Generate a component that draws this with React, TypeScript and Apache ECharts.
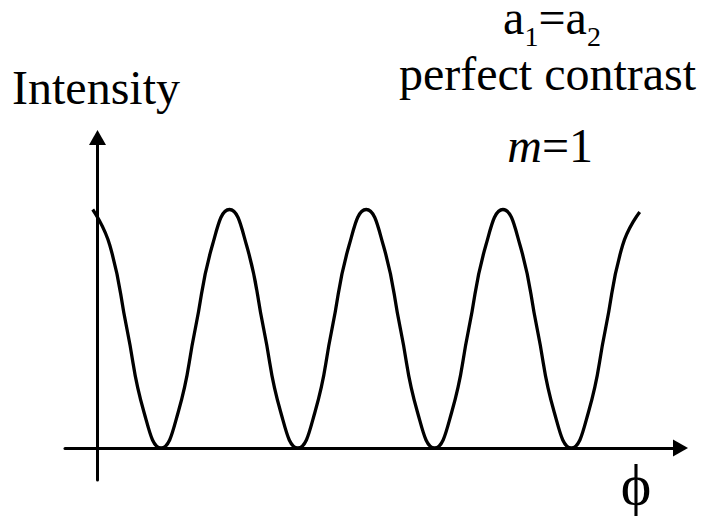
import React, { useEffect, useRef } from "react";
import * as echarts from "echarts";

// phase φ in units of π
const phi = [
  -0.07, 0.18, 0.43, 0.68, 0.93, 1.18, 1.43, 1.68, 1.93, 2.18, 2.43, 2.68,
  2.93, 3.18, 3.43, 3.68, 3.93, 4.18, 4.43, 4.68, 4.93, 5.18, 5.43, 5.68,
  5.93, 6.18, 6.43, 6.68, 6.93, 7.18, 7.43, 7.68, 7.93,
];
// normalized intensity
const intensity = [
  1, 0.85, 0.5, 0.15, 0, 0.15, 0.5, 0.85, 1, 0.85, 0.5, 0.15, 0, 0.15, 0.5,
  0.85, 1, 0.85, 0.5, 0.15, 0, 0.15, 0.5, 0.85, 1, 0.85, 0.5, 0.15, 0, 0.15,
  0.5, 0.85, 0.99,
];

const yAxisTitle = "Intensity";
const xAxisTitle = "\u03D5";
const noteLine2 = "perfect contrast";

export default function App() {
  const ref = useRef<HTMLDivElement>(null);
  useEffect(() => {
    if (!ref.current) return;
    const chart = echarts.init(ref.current, undefined, { renderer: "svg" });
    const points = phi.map((p, i) => [p, intensity[i]]);
    const axisLine = () => ({
      show: true,
      onZero: true,
      symbol: ["none", "triangle"],
      symbolSize: [17, 15],
      lineStyle: { color: "#000", width: 3 },
    });
    const txt = (text: string, x: number, y: number, size: number, align: string, italic = false) => ({
      type: "text",
      x,
      y,
      silent: true,
      style: {
        text,
        fill: "#000",
        fontSize: size,
        fontFamily: "Liberation Serif",
        fontStyle: italic ? "italic" : "normal",
        align,
        verticalAlign: "middle",
      },
    });
    chart.setOption({
      animation: false,
      grid: { left: 65, right: 27.5, top: 137.5, bottom: 39, containLabel: false },
      xAxis: {
        type: "value",
        min: -0.4753,
        max: 8.5265,
        axisLine: axisLine(),
        axisTick: { show: false },
        axisLabel: { show: false },
        splitLine: { show: false },
      },
      yAxis: {
        type: "value",
        min: -0.1342,
        max: 1.3019,
        axisLine: axisLine(),
        axisTick: { show: false },
        axisLabel: { show: false },
        splitLine: { show: false },
      },
      series: [
        {
          type: "line",
          data: points,
          smooth: true,
          showSymbol: false,
          lineStyle: { color: "#000", width: 3.3 },
        },
      ],
      graphic: [
        txt(yAxisTitle, 12, 87, 48, "left"),
        txt(noteLine2, 547.5, 73, 48, "center"),
        txt("a", 503, 17, 48, "left"),
        txt("1", 524.5, 36.5, 28, "left"),
        txt("=a", 538.5, 17, 48, "left"),
        txt("2", 587, 36.5, 28, "left"),
        txt("m", 542, 145, 48, "right", true),
        txt("=1", 542, 145, 48, "left"),
        txt(xAxisTitle, 636, 484, 58, "center"),
      ],
    });
    return () => chart.dispose();
  }, []);
  return <div ref={ref} style={{ width: 708, height: 519, position: "absolute", left: 0, top: 0 }} />;
}
